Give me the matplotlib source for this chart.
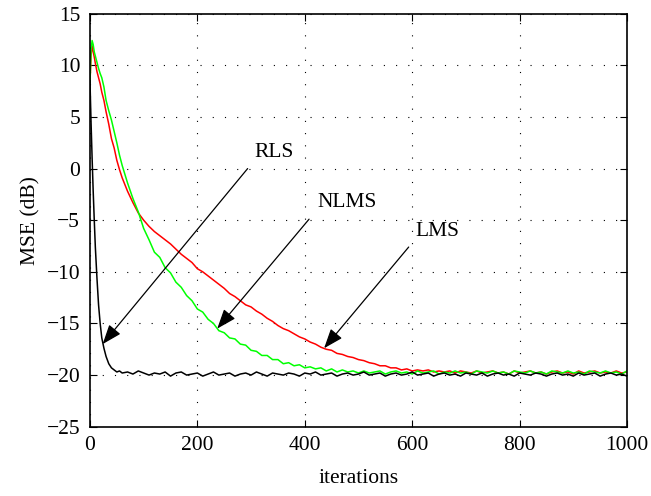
import matplotlib
matplotlib.use("Agg")
import matplotlib.pyplot as plt

plt.rcParams["font.family"] = ["Liberation Serif", "DejaVu Serif"]

it_head = [0, 2, 4, 6, 8, 10, 13, 16, 19, 22, 26, 30, 35, 40, 45, 50, 55, 60]
it_tail = list(range(70, 1001, 10))
iterations = it_head + it_tail

# RLS (black)
rls = [8.5, 4.5, 1.0, -2.2, -5.0, -7.6, -10.6, -13.2, -15.0, -16.4, -17.4, -18.2,
       -18.9, -19.3, -19.5, -19.7, -19.6, -19.8,
       -19.7, -19.9, -19.6, -19.8, -20.0, -19.8, -19.9, -19.7, -20.1, -19.8,
       -19.7, -20.0, -19.9, -19.8, -20.1, -19.9, -19.7, -20.0, -19.9, -19.8,
       -20.1, -19.9, -19.8, -20.0, -19.7, -19.9, -20.1, -19.8, -19.9, -20.0,
       -19.8, -19.9, -20.1, -19.8, -19.9, -19.7, -20.0, -19.9, -19.8, -20.1,
       -19.9, -19.8, -20.0, -19.9, -19.7, -20.0, -19.9, -19.8, -20.1, -19.9,
       -19.8, -20.0, -19.9, -19.7, -20.0, -19.9, -19.8, -20.1, -19.9, -19.8,
       -20.0, -19.9, -20.1, -19.8, -19.9, -20.0, -19.8, -20.1, -19.9, -19.8,
       -20.0, -19.9, -20.1, -19.8, -19.9, -20.0, -19.8, -19.9, -20.1, -19.9,
       -19.8, -20.0, -19.9, -20.1, -19.8, -20.0, -19.9, -19.8, -20.1, -19.9,
       -19.8, -20.0, -19.9, -20.1]

# NLMS (green)
nlms = [8.3, 11.5, 12.4, 12.0, 11.3, 10.9, 10.3, 9.7, 9.2, 8.8, 7.9, 6.6,
        5.6, 4.7, 3.6, 2.5, 1.3, 0.3,
        -1.4, -2.9, -4.2, -5.8, -6.9, -8.1, -8.6, -9.6, -10.1, -11.0,
        -11.5, -12.3, -12.8, -13.6, -13.9, -14.6, -15.0, -15.7, -15.9, -16.4,
        -16.5, -17.0, -17.1, -17.6, -17.7, -18.1, -18.1, -18.5, -18.5, -18.9,
        -18.8, -19.1, -19.0, -19.3, -19.2, -19.4, -19.3, -19.6, -19.4, -19.7,
        -19.5, -19.7, -19.6, -19.8, -19.6, -19.8, -19.7, -19.6, -19.9, -19.7,
        -19.6, -19.8, -19.7, -19.9, -19.6, -19.8, -19.7, -19.6, -19.9, -19.7,
        -19.8, -19.6, -19.8, -19.7, -19.9, -19.6, -19.7, -19.8, -19.6, -19.8,
        -19.7, -19.9, -19.6, -19.7, -19.8, -19.6, -19.8, -19.7, -19.9, -19.6,
        -19.7, -19.8, -19.6, -19.8, -19.7, -19.9, -19.6, -19.7, -19.8, -19.6,
        -19.8, -19.7, -19.9, -19.6]

# LMS (red)
lms = [8.3, 11.0, 11.9, 11.3, 10.8, 10.2, 9.4, 8.8, 8.2, 7.4, 6.6, 5.5,
       4.3, 2.9, 2.0, 0.8, -0.1, -0.9,
       -2.2, -3.3, -4.3, -5.0, -5.6, -6.1, -6.5, -6.9, -7.3, -7.8,
       -8.3, -8.7, -9.1, -9.7, -10.0, -10.4, -10.8, -11.2, -11.6, -12.1,
       -12.4, -12.8, -13.2, -13.4, -13.8, -14.1, -14.5, -14.8, -15.2, -15.5,
       -15.7, -16.0, -16.3, -16.5, -16.8, -17.0, -17.3, -17.5, -17.6, -17.9,
       -18.0, -18.2, -18.3, -18.5, -18.6, -18.8, -18.9, -19.1, -19.1, -19.3,
       -19.3, -19.5, -19.4, -19.6, -19.5, -19.6, -19.5, -19.7, -19.6, -19.7,
       -19.6, -19.8, -19.6, -19.7, -19.8, -19.6, -19.8, -19.7, -19.6, -19.8,
       -19.7, -19.9, -19.6, -19.8, -19.7, -19.6, -19.8, -19.7, -19.9, -19.7,
       -19.6, -19.8, -19.7, -19.9, -19.6, -19.8, -19.7, -19.6, -19.8, -19.7,
       -19.8, -19.6, -19.8, -19.7]

x_ticks = [0, 200, 400, 600, 800, 1000]
y_ticks = [-25, -20, -15, -10, -5, 0, 5, 10, 15]

fig = plt.figure(figsize=(6.51, 4.96), dpi=100)
ax = fig.add_axes([0.1382, 0.1397, 0.8249, 0.8327])

ax.plot(iterations, lms, color="#ff0000", lw=1.1)
ax.plot(iterations, nlms, color="#00ff00", lw=1.1)
ax.plot(iterations, rls, color="black", lw=1.1)

ax.set_xlim(0, 1000)
ax.set_ylim(-25, 15)
ax.set_xticks(x_ticks)
ax.set_yticks(y_ticks)
ax.tick_params(direction="in", top=True, right=True, length=5, width=0.8,
               labelsize=15.5, pad=7)
ax.grid(True, color="black", linestyle=(0, (1, 10)), linewidth=0.8)
for s in ax.spines.values():
    s.set_linewidth(1.2)

ax.set_xlabel("iterations", fontsize=15.5, labelpad=10)
ax.set_ylabel("MSE (dB)", fontsize=15.5, labelpad=4)

# annotations: label, text position, arrow tip, arrow tail
notes = [("RLS", (307, 1.6), (23.6, -17.0), (293.6, 0.0)),
         ("NLMS", (424, -3.3), (237, -15.5), (408, -4.9)),
         ("LMS", (606.5, -6.05), (436, -17.4), (593.5, -7.6))]
for label, txt, tip, tail in notes:
    ax.annotate("", xy=tip, xytext=tail,
                arrowprops=dict(arrowstyle="-|>,head_length=0.8,head_width=0.3",
                                color="black", lw=0.9, shrinkA=0, shrinkB=0,
                                mutation_scale=15))
    ax.text(txt[0], txt[1], label, fontsize=15.5, ha="left", va="center")

fig.savefig("out.png", dpi=100)
